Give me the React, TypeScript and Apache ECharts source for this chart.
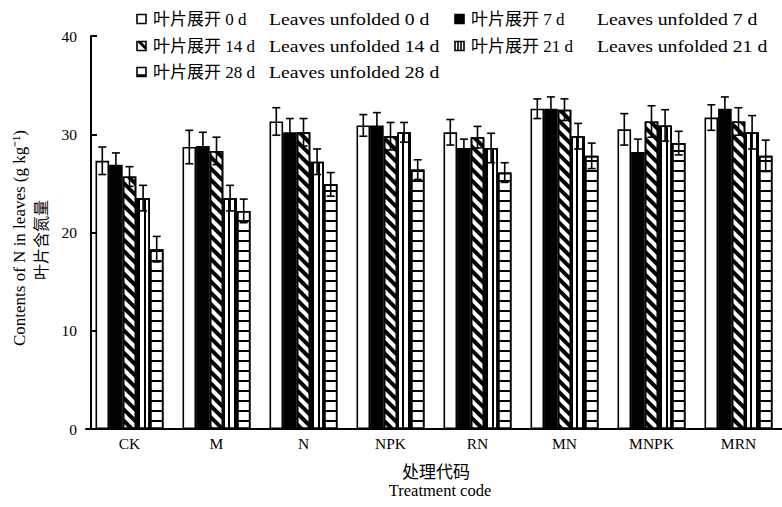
import React, { useEffect, useRef } from "react";
import * as echarts from "echarts";

const categories = ["CK", "M", "N", "NPK", "RN", "MN", "MNPK", "MRN"];
const seriesNamesZh = ["叶片展开 0 d", "叶片展开 7 d", "叶片展开 14 d", "叶片展开 21 d", "叶片展开 28 d"];
const seriesNamesEn = ["Leaves unfolded 0 d", "Leaves unfolded 7 d", "Leaves unfolded 14 d", "Leaves unfolded 21 d", "Leaves unfolded 28 d"];

const day0 = [27.3, 28.7, 31.3, 30.9, 30.2, 32.6, 30.5, 31.7];
const day0Err = [1.4, 1.7, 1.4, 1.1, 1.3, 1.0, 1.6, 1.3];
const day7 = [26.9, 28.8, 30.2, 30.9, 28.6, 32.6, 28.2, 32.6];
const day7Err = [1.2, 1.4, 1.4, 1.3, 0.9, 1.2, 1.3, 1.2];
const day14 = [25.7, 28.3, 30.2, 29.8, 29.7, 32.5, 31.3, 31.3];
const day14Err = [1.0, 1.4, 1.4, 1.4, 1.1, 1.1, 1.6, 1.4];
const day21 = [23.5, 23.5, 27.2, 30.2, 28.6, 29.8, 30.9, 30.2];
const day21Err = [1.3, 1.3, 1.3, 1.0, 1.5, 1.3, 1.6, 1.7];
const day28 = [18.3, 22.2, 24.9, 26.4, 26.1, 27.8, 29.1, 27.8];
const day28Err = [1.3, 1.2, 1.2, 1.0, 1.0, 1.3, 1.2, 1.6];

const yTicks = { min: 0, max: 40, interval: 10 };

const seriesValues = [day0, day7, day14, day21, day28];
const seriesErrors = [day0Err, day7Err, day14Err, day21Err, day28Err];

const SERIF = "'Liberation Serif', 'Noto Sans CJK SC', serif";
const CJK = "'Noto Sans CJK SC', sans-serif";
const BAR_W = 13.6;

const fills = ["#ffffff", "#000000", "#ffffff", "#ffffff", "#ffffff"];
const decals: any[] = [
  null,
  null,
  { symbol: "rect", symbolSize: 1, color: "#000", dashArrayX: [1, 0], dashArrayY: [3.2, 3.2], rotation: Math.PI / 4 },
  { symbol: "rect", symbolSize: 1, color: "#000", dashArrayX: [1.8, 4], dashArrayY: [1, 0] },
  { symbol: "rect", symbolSize: 1, color: "#000", dashArrayX: [1, 0], dashArrayY: [2, 7.3] },
];

function legendIcon(k: number, x: number, y: number): any[] {
  const s = 9;
  const x0 = x, y0 = y - s / 2;
  const box = { type: "rect", shape: { x: x0, y: y0, width: s, height: s }, style: { fill: k === 1 ? "#000" : "#fff", stroke: "#000", lineWidth: 1.6 } };
  const out: any[] = [box];
  if (k === 2) {
    out.push({ type: "polygon", shape: { points: [[x0, y0], [x0 + s, y0 + s], [x0 + s, y0 + s - 4], [x0 + 4, y0]] }, style: { fill: "#000" } });
  } else if (k === 3) {
    out.push({ type: "line", shape: { x1: x0 + 3, y1: y0, x2: x0 + 3, y2: y0 + s }, style: { stroke: "#000", lineWidth: 1.6 } });
    out.push({ type: "line", shape: { x1: x0 + 6, y1: y0, x2: x0 + 6, y2: y0 + s }, style: { stroke: "#000", lineWidth: 1.6 } });
  } else if (k === 4) {
    out.push({ type: "line", shape: { x1: x0, y1: y0 + s - 1, x2: x0 + s, y2: y0 + s - 1 }, style: { stroke: "#000", lineWidth: 2.5 } });
  }
  return out;
}

export default function App() {
  const ref = useRef<HTMLDivElement>(null);
  useEffect(() => {
    if (!ref.current) return;
    const chart = echarts.init(ref.current, undefined, { renderer: "svg" });

    const rowY = [19, 46, 72];
    const colX = [137, 455];
    const enOffset = [132, 142];
    const legendEls: any[] = [];
    seriesNamesZh.forEach((zh, k) => {
      const col = k % 2;
      const row = Math.floor(k / 2);
      const x = colX[col];
      const y = rowY[row];
      legendEls.push(...legendIcon(k, x, y));
      legendEls.push({ type: "text", x: x + 16, y, style: { text: zh, fontSize: 17, fontFamily: SERIF, fill: "#000", textVerticalAlign: "middle" } });
      legendEls.push({ type: "text", x: x + enOffset[col], y, scaleX: 1.16, style: { text: seriesNamesEn[k], fontSize: 17, fontFamily: SERIF, fill: "#000", textVerticalAlign: "middle" } });
    });

    const barSeries = seriesValues.map((vals, k) => ({
      type: "bar",
      name: seriesNamesZh[k],
      data: vals,
      barWidth: BAR_W,
      barGap: "0%",
      itemStyle: { color: fills[k], borderColor: "#000", borderWidth: 1.6, ...(decals[k] ? { decal: decals[k] } : {}) },
      z: 2,
    }));

    const errSeries = seriesValues.map((vals, k) => ({
      type: "custom",
      name: seriesNamesZh[k] + " err",
      z: 5,
      data: vals.map((v, i) => [i, v, seriesErrors[k][i]]),
      encode: { x: 0, y: 1 },
      renderItem: (params: any, api: any) => {
        const i = api.value(0);
        const v = api.value(1);
        const e = api.value(2);
        const c = api.coord([i, v]);
        const xc = c[0] + (k - 2) * BAR_W;
        const yt = api.coord([i, v + e])[1];
        const yb = api.coord([i, v - e])[1];
        const st = { stroke: "#000", lineWidth: 1.6 };
        return {
          type: "group",
          children: [
            { type: "line", shape: { x1: xc, y1: yt, x2: xc, y2: yb }, style: st },
            { type: "line", shape: { x1: xc - 4, y1: yt, x2: xc + 4, y2: yt }, style: st },
            { type: "line", shape: { x1: xc - 4, y1: yb, x2: xc + 4, y2: yb }, style: st },
          ],
        };
      },
    }));

    chart.setOption({
      animation: false,
      backgroundColor: "#fff",
      grid: { left: 86, top: 36, width: 707, height: 393, containLabel: false },
      xAxis: {
        type: "category",
        data: categories,
        axisLine: { lineStyle: { color: "#000", width: 2 } },
        axisTick: { show: false },
        axisLabel: { color: "#000", fontSize: 15.5, fontFamily: SERIF, margin: 7, interval: 0 },
      },
      yAxis: {
        type: "value",
        min: yTicks.min,
        max: yTicks.max,
        interval: yTicks.interval,
        offset: -5,
        axisLine: { show: true, lineStyle: { color: "#000", width: 2 } },
        axisTick: { show: true, inside: true, length: 6, lineStyle: { color: "#000", width: 2 } },
        axisLabel: { color: "#000", fontSize: 15.5, fontFamily: SERIF, margin: 14 },
        splitLine: { show: false },
      },
      series: [...barSeries, ...errSeries],
      graphic: [
        ...legendEls,
        { type: "text", x: 19, y: 238, rotation: Math.PI / 2, style: { text: "Contents of N in leaves (g kg⁻¹)", fontSize: 17, fontFamily: SERIF, fill: "#000", textAlign: "center", textVerticalAlign: "middle" } },
        { type: "text", x: 40, y: 240, rotation: Math.PI / 2, style: { text: "叶片含氮量", fontSize: 16, fontFamily: CJK, fill: "#000", textAlign: "center", textVerticalAlign: "middle" } },
        { type: "text", x: 436, y: 470, style: { text: "处理代码", fontSize: 17, fontFamily: CJK, fill: "#000", textAlign: "center", textVerticalAlign: "middle" } },
        { type: "text", x: 440, y: 490, style: { text: "Treatment code", fontSize: 16.5, fontFamily: SERIF, fill: "#000", textAlign: "center", textVerticalAlign: "middle" } },
      ],
    });
    return () => chart.dispose();
  }, []);
  return <div ref={ref} style={{ position: "fixed", left: 0, top: 0, width: 782, height: 507 }} />;
}
